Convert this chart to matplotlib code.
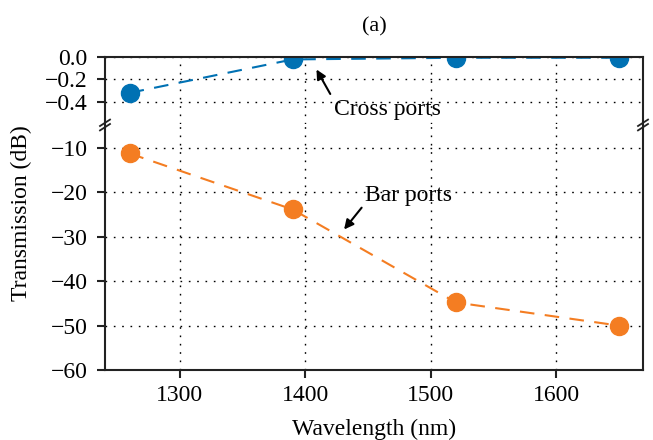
import matplotlib
matplotlib.use("Agg")
import matplotlib.pyplot as plt
from matplotlib.lines import Line2D

plt.rcParams['font.family'] = ['Liberation Serif', 'DejaVu Serif']
plt.rcParams['axes.unicode_minus'] = True

wavelength = [1260, 1390, 1520, 1650]
cross_db = [-0.32, -0.02, -0.005, -0.005]
bar_db = [-11.3, -23.9, -44.8, -50.0]
xticks = [1300, 1400, 1500, 1600]
top_yticks = [0.0, -0.2, -0.4]
bot_yticks = [-10, -20, -30, -40, -50, -60]

blue = '#0071b3'
orange = '#f47d22'
fs = 17

fig = plt.figure(figsize=(6.53, 4.40), dpi=100)
ax1 = fig.add_axes([0.161, 0.718, 0.824, 0.152])
ax2 = fig.add_axes([0.161, 0.159, 0.824, 0.556], sharex=ax1)

grid_kw = dict(color='black', linestyle=(0, (1.2, 4.8)), linewidth=1.0)
line_kw = dict(linestyle=(0, (7, 5)), linewidth=1.5, marker='o', markersize=13)

ax1.plot(wavelength, cross_db, color=blue, **line_kw)
ax2.plot(wavelength, bar_db, color=orange, **line_kw)

ax1.set_ylim(-0.6, 0.0)
ax2.set_ylim(-60, -5)
ax1.set_yticks(top_yticks)
ax2.set_yticks(bot_yticks)
ax2.set_xticks(xticks)

for ax in (ax1, ax2):
    ax.grid(True, **grid_kw)
    ax.set_axisbelow(True)
    for s in ax.spines.values():
        s.set_linewidth(1.5)
        s.set_color('#222222')
    ax.tick_params(direction='out', length=6, width=1.5, labelsize=fs, color='#222222')
    ax.tick_params(axis='y', pad=6.5)
    ax.tick_params(axis='x', pad=5)

ax1.spines['bottom'].set_visible(False)
ax2.spines['top'].set_visible(False)
ax1.tick_params(axis='x', bottom=False, labelbottom=False)
ax1.set_yticklabels(['0.0', '\u22120.2', '\u22120.4'])

ax2.set_xlabel('Wavelength (nm)', fontsize=fs, labelpad=9)
ax2.set_ylabel('Transmission (dB)', fontsize=fs)
ax2.yaxis.set_label_coords(-0.135, 0.64)
ax1.text(0.5, 1.0 + 30 / 67.0, '(a)', transform=ax1.transAxes, fontsize=16,
         ha='center', va='center')

# break marks (two parallel slashes on each side spine)
W, H = 653.0, 440.0
yc = 1 - 125.0 / H
for xpx in (105.0, 643.0):
    for dy in (-2.2, 2.2):
        fig.add_artist(Line2D([(xpx - 5) / W, (xpx + 5) / W],
                              [yc + (dy - 3.2) / H, yc + (dy + 3.2) / H],
                              color='#222222', linewidth=1.3, transform=fig.transFigure))

arrow_kw = dict(arrowstyle='-|>', color='black', lw=1.5, mutation_scale=14, shrinkA=0, shrinkB=0)
ax1.annotate('', xy=(1409, -0.11), xytext=(1420, -0.33), arrowprops=arrow_kw)
ax1.text(1423, -0.47, 'Cross ports', fontsize=fs, ha='left', va='center')
ax2.annotate('', xy=(1431, -28.4), xytext=(1445, -23.5), arrowprops=arrow_kw)
ax2.text(1448, -20.8, 'Bar ports', fontsize=fs, ha='left', va='center')

fig.savefig('out.png', dpi=100)
